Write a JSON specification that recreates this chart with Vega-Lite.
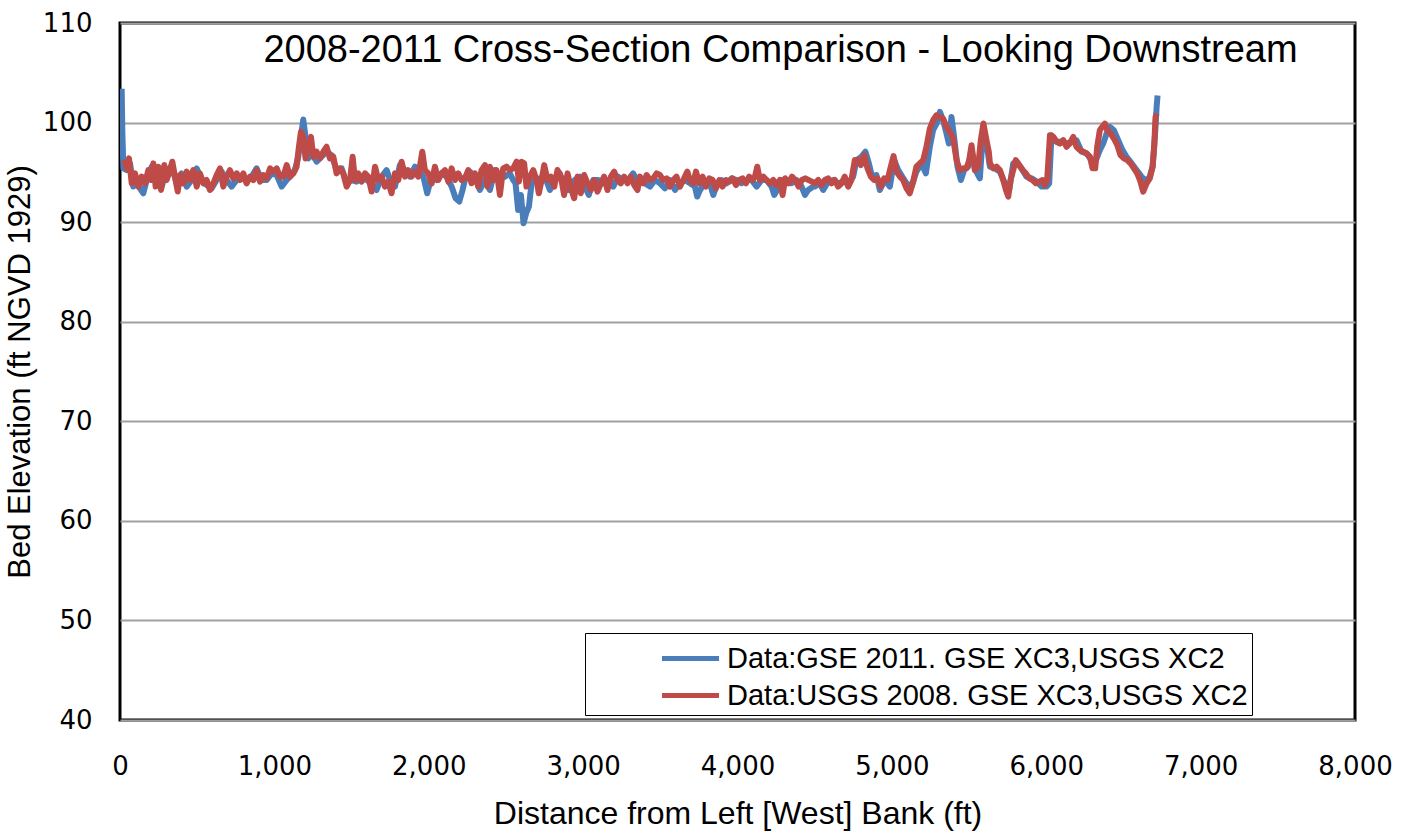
{
  "$schema": "https://vega.github.io/schema/vega-lite/v6.json",
  "autosize": {"type": "none"},
  "width": 1235,
  "height": 697,
  "padding": {"left": 120, "top": 23, "right": 58, "bottom": 113},
  "background": "white",
  "title": {"text": "2008-2011 Cross-Section Comparison - Looking Downstream", "anchor": "middle", "dx": 43, "offset": -60, "font": "Liberation Sans", "fontSize": 38, "fontWeight": "normal", "color": "black"},
  "datasets": {
    "gse": [
      {"d":11,"v":103.4},{"d":15,"v":99.23},{"d":22,"v":95.4},{"d":43,"v":95.23},{"d":65,"v":95.9},{"d":86,"v":93.57},{"d":108,"v":93.9},{"d":151,"v":92.9},{"d":173,"v":94.23},{"d":205,"v":95.57},{"d":237,"v":93.9},{"d":270,"v":93.57},{"d":302,"v":95.23},{"d":335,"v":95.57},{"d":367,"v":93.9},{"d":399,"v":94.9},{"d":432,"v":93.57},{"d":464,"v":94.23},{"d":497,"v":95.4},{"d":529,"v":94.23},{"d":561,"v":93.73},{"d":594,"v":93.4},{"d":626,"v":94.23},{"d":658,"v":95.07},{"d":691,"v":94.23},{"d":723,"v":93.57},{"d":756,"v":94.23},{"d":788,"v":94.57},{"d":820,"v":94.07},{"d":853,"v":94.57},{"d":885,"v":95.4},{"d":918,"v":94.23},{"d":950,"v":94.23},{"d":982,"v":94.9},{"d":1015,"v":94.73},{"d":1047,"v":93.57},{"d":1080,"v":94.23},
      {"d":1101,"v":94.57},{"d":1133,"v":95.23},{"d":1155,"v":96.57},{"d":1172,"v":98.57},{"d":1187,"v":100.3},{"d":1202,"v":98.57},{"d":1220,"v":96.4},{"d":1241,"v":96.9},{"d":1274,"v":96.07},{"d":1306,"v":96.57},{"d":1338,"v":97.07},{"d":1371,"v":96.73},{"d":1403,"v":95.23},{"d":1436,"v":95.4},{"d":1468,"v":93.9},{"d":1500,"v":94.23},{"d":1533,"v":94.07},{"d":1565,"v":94.4},{"d":1598,"v":94.23},{"d":1630,"v":93.9},{"d":1662,"v":93.23},{"d":1695,"v":94.57},{"d":1727,"v":95.23},{"d":1749,"v":94.23},{"d":1781,"v":93.57},{"d":1813,"v":95.73},{"d":1846,"v":95.23},{"d":1878,"v":94.57},{"d":1911,"v":95.57},{"d":1943,"v":94.9},{"d":1965,"v":94.57},{"d":1990,"v":92.9},{"d":2019,"v":94.57},{"d":2051,"v":94.23},{"d":2083,"v":94.9},{"d":2116,"v":94.57},{"d":2148,"v":93.57},{"d":2174,"v":92.4},{"d":2198,"v":92.07},{"d":2219,"v":93.23},
      {"d":2234,"v":94.23},{"d":2266,"v":95.07},{"d":2299,"v":94.57},{"d":2331,"v":93.23},{"d":2364,"v":94.23},{"d":2396,"v":93.23},{"d":2428,"v":95.23},{"d":2461,"v":94.57},{"d":2493,"v":94.57},{"d":2525,"v":94.9},{"d":2547,"v":94.23},{"d":2562,"v":93.9},{"d":2579,"v":91.23},{"d":2597,"v":92.73},{"d":2614,"v":89.9},{"d":2631,"v":90.9},{"d":2649,"v":91.57},{"d":2666,"v":93.9},{"d":2687,"v":94.23},{"d":2720,"v":94.4},{"d":2752,"v":94.57},{"d":2785,"v":93.23},{"d":2817,"v":94.23},{"d":2849,"v":94.9},{"d":2882,"v":93.23},{"d":2914,"v":93.23},{"d":2946,"v":94.23},{"d":2979,"v":94.57},{"d":3011,"v":93.57},{"d":3037,"v":92.73},{"d":3065,"v":94.23},{"d":3098,"v":94.23},{"d":3130,"v":93.9},{"d":3162,"v":94.23},{"d":3195,"v":93.57},{"d":3227,"v":94.57},{"d":3260,"v":94.23},{"d":3292,"v":94.23},{"d":3324,"v":94.9},{"d":3357,"v":93.9},
      {"d":3368,"v":94.23},{"d":3400,"v":93.9},{"d":3433,"v":93.57},{"d":3465,"v":94.23},{"d":3498,"v":93.9},{"d":3530,"v":93.4},{"d":3562,"v":94.23},{"d":3595,"v":93.23},{"d":3627,"v":93.9},{"d":3659,"v":94.23},{"d":3692,"v":93.9},{"d":3724,"v":93.57},{"d":3739,"v":92.57},{"d":3757,"v":93.23},{"d":3789,"v":93.9},{"d":3821,"v":93.9},{"d":3843,"v":92.73},{"d":3869,"v":93.9},{"d":3897,"v":94.23},{"d":3929,"v":93.9},{"d":3962,"v":94.4},{"d":3994,"v":94.23},{"d":4026,"v":93.9},{"d":4059,"v":94.23},{"d":4091,"v":94.23},{"d":4124,"v":93.57},{"d":4156,"v":94.23},{"d":4188,"v":94.23},{"d":4221,"v":93.57},{"d":4238,"v":92.73},{"d":4258,"v":93.23},{"d":4286,"v":94.23},{"d":4318,"v":94.07},{"d":4350,"v":93.9},{"d":4383,"v":94.23},{"d":4415,"v":93.57},{"d":4437,"v":92.73},{"d":4458,"v":93.23},{"d":4491,"v":93.57},
      {"d":4501,"v":93.57},{"d":4533,"v":93.9},{"d":4555,"v":93.23},{"d":4587,"v":94.07},{"d":4620,"v":94.23},{"d":4652,"v":93.9},{"d":4685,"v":94.07},{"d":4717,"v":93.9},{"d":4749,"v":94.57},{"d":4771,"v":96.23},{"d":4803,"v":96.57},{"d":4829,"v":97.07},{"d":4851,"v":95.9},{"d":4872,"v":94.57},{"d":4900,"v":94.73},{"d":4922,"v":93.23},{"d":4954,"v":94.23},{"d":4987,"v":93.57},{"d":5015,"v":96.23},{"d":5041,"v":95.23},{"d":5067,"v":94.57},{"d":5095,"v":93.9},{"d":5127,"v":93.57},{"d":5159,"v":95.07},{"d":5192,"v":95.9},{"d":5220,"v":94.9},{"d":5246,"v":97.57},{"d":5267,"v":99.23},{"d":5289,"v":99.9},{"d":5311,"v":101.07},{"d":5332,"v":100.23},{"d":5354,"v":98.9},{"d":5369,"v":97.9},{"d":5386,"v":100.57},{"d":5403,"v":98.57},{"d":5425,"v":95.57},{"d":5447,"v":94.23},{"d":5468,"v":95.23},{"d":5494,"v":95.57},{"d":5516,"v":97.23},{"d":5542,"v":95.23},{"d":5570,"v":94.4},{"d":5591,"v":99.23},{"d":5613,"v":97.9},
      {"d":5635,"v":95.57},{"d":5667,"v":95.4},{"d":5700,"v":95.07},{"d":5732,"v":93.9},{"d":5760,"v":93.23},{"d":5786,"v":95.9},{"d":5808,"v":96.07},{"d":5840,"v":95.4},{"d":5872,"v":94.57},{"d":5905,"v":94.4},{"d":5937,"v":94.07},{"d":5970,"v":93.57},{"d":6002,"v":93.57},{"d":6019,"v":93.9},{"d":6034,"v":98.73},{"d":6067,"v":98.07},{"d":6099,"v":98.07},{"d":6132,"v":97.9},{"d":6164,"v":98.07},{"d":6196,"v":98.23},{"d":6229,"v":97.07},{"d":6261,"v":96.9},{"d":6293,"v":96.23},{"d":6322,"v":96.23},{"d":6347,"v":97.23},{"d":6369,"v":97.9},{"d":6391,"v":98.9},{"d":6412,"v":99.57},{"d":6438,"v":99.23},{"d":6466,"v":98.23},{"d":6494,"v":97.23},{"d":6520,"v":96.57},{"d":6553,"v":95.9},{"d":6585,"v":95.23},{"d":6617,"v":94.57},{"d":6639,"v":94.23},{"d":6667,"v":94.4},{"d":6689,"v":95.57},{"d":6704,"v":98.57},{"d":6715,"v":101.57},{"d":6721,"v":102.73}
    ],
    "usgs": [
      {"d":26,"v":96.23},{"d":43,"v":95.4},{"d":58,"v":96.4},{"d":76,"v":93.9},{"d":97,"v":94.9},{"d":119,"v":93.57},{"d":140,"v":94.57},{"d":162,"v":93.9},{"d":184,"v":95.23},{"d":201,"v":94.23},{"d":216,"v":95.9},{"d":231,"v":93.57},{"d":248,"v":95.57},{"d":266,"v":93.23},{"d":287,"v":95.73},{"d":302,"v":94.23},{"d":317,"v":94.9},{"d":339,"v":96.07},{"d":356,"v":94.57},{"d":374,"v":93.07},{"d":389,"v":94.73},{"d":410,"v":93.9},{"d":432,"v":95.07},{"d":453,"v":94.23},{"d":475,"v":95.23},{"d":497,"v":93.57},{"d":518,"v":94.9},{"d":540,"v":93.9},{"d":561,"v":94.23},{"d":583,"v":93.23},{"d":605,"v":93.9},{"d":626,"v":94.73},{"d":648,"v":95.4},{"d":669,"v":93.57},{"d":691,"v":94.57},{"d":712,"v":95.23},{"d":734,"v":94.4},{"d":756,"v":94.9},{"d":777,"v":94.23},{"d":799,"v":94.9},{"d":820,"v":93.9},{"d":842,"v":94.57},{"d":864,"v":94.23},{"d":885,"v":95.23},{"d":907,"v":94.07},{"d":928,"v":94.73},{"d":950,"v":94.4},{"d":972,"v":95.4},{"d":993,"v":95.07},{"d":1015,"v":95.4},{"d":1036,"v":94.57},{"d":1058,"v":94.57},{"d":1080,"v":95.73},
      {"d":1101,"v":94.57},{"d":1123,"v":94.9},{"d":1144,"v":95.57},{"d":1159,"v":97.57},{"d":1172,"v":99.07},{"d":1187,"v":98.57},{"d":1202,"v":96.4},{"d":1220,"v":97.73},{"d":1237,"v":98.57},{"d":1252,"v":96.57},{"d":1274,"v":97.07},{"d":1295,"v":96.4},{"d":1317,"v":97.07},{"d":1338,"v":97.57},{"d":1360,"v":96.4},{"d":1382,"v":96.57},{"d":1403,"v":94.9},{"d":1425,"v":95.4},{"d":1446,"v":94.9},{"d":1468,"v":93.57},{"d":1490,"v":94.23},{"d":1507,"v":96.57},{"d":1522,"v":94.23},{"d":1544,"v":94.9},{"d":1565,"v":94.07},{"d":1587,"v":94.9},{"d":1608,"v":94.57},{"d":1630,"v":93.07},{"d":1652,"v":95.57},{"d":1673,"v":94.23},{"d":1695,"v":94.57},{"d":1716,"v":93.57},{"d":1738,"v":94.07},{"d":1759,"v":92.9},{"d":1781,"v":94.9},{"d":1803,"v":94.23},{"d":1824,"v":96.07},{"d":1846,"v":94.57},{"d":1867,"v":95.23},{"d":1889,"v":94.57},{"d":1911,"v":95.07},{"d":1932,"v":94.57},{"d":1958,"v":97.07},{"d":1975,"v":95.23},{"d":1997,"v":94.9},{"d":2019,"v":93.9},{"d":2040,"v":95.57},{"d":2062,"v":94.23},{"d":2083,"v":94.9},{"d":2105,"v":95.23},{"d":2127,"v":94.07},{"d":2148,"v":95.4},{"d":2170,"v":94.23},{"d":2191,"v":94.9},{"d":2213,"v":94.23},
      {"d":2234,"v":94.4},{"d":2256,"v":95.23},{"d":2277,"v":93.9},{"d":2299,"v":94.9},{"d":2320,"v":93.57},{"d":2342,"v":95.23},{"d":2364,"v":95.73},{"d":2381,"v":93.57},{"d":2396,"v":95.57},{"d":2418,"v":94.23},{"d":2439,"v":95.23},{"d":2461,"v":92.73},{"d":2482,"v":95.4},{"d":2504,"v":95.57},{"d":2525,"v":95.23},{"d":2547,"v":95.4},{"d":2569,"v":96.07},{"d":2584,"v":94.07},{"d":2601,"v":96.07},{"d":2618,"v":95.9},{"d":2633,"v":93.57},{"d":2655,"v":94.57},{"d":2677,"v":95.23},{"d":2698,"v":94.23},{"d":2713,"v":92.9},{"d":2731,"v":94.23},{"d":2748,"v":95.73},{"d":2769,"v":94.23},{"d":2791,"v":94.57},{"d":2813,"v":93.57},{"d":2834,"v":95.23},{"d":2856,"v":94.57},{"d":2877,"v":92.73},{"d":2899,"v":94.9},{"d":2921,"v":93.4},{"d":2942,"v":92.4},{"d":2964,"v":94.57},{"d":2985,"v":92.9},{"d":3007,"v":94.73},{"d":3029,"v":93.9},{"d":3050,"v":93.23},{"d":3072,"v":94.23},{"d":3093,"v":93.07},{"d":3115,"v":93.9},{"d":3136,"v":94.57},{"d":3158,"v":93.23},{"d":3180,"v":94.57},{"d":3201,"v":95.07},{"d":3223,"v":94.23},{"d":3244,"v":93.9},{"d":3266,"v":94.57},{"d":3288,"v":93.9},{"d":3309,"v":94.57},{"d":3331,"v":93.73},{"d":3352,"v":93.23},
      {"d":3368,"v":94.57},{"d":3390,"v":93.9},{"d":3411,"v":94.73},{"d":3433,"v":94.23},{"d":3454,"v":94.4},{"d":3476,"v":94.9},{"d":3498,"v":94.73},{"d":3519,"v":94.23},{"d":3541,"v":94.4},{"d":3562,"v":93.57},{"d":3584,"v":94.23},{"d":3605,"v":94.57},{"d":3627,"v":93.57},{"d":3649,"v":94.23},{"d":3675,"v":95.07},{"d":3692,"v":94.23},{"d":3713,"v":93.9},{"d":3731,"v":95.07},{"d":3752,"v":93.9},{"d":3774,"v":94.57},{"d":3795,"v":93.57},{"d":3817,"v":94.4},{"d":3839,"v":94.23},{"d":3860,"v":93.4},{"d":3882,"v":94.23},{"d":3903,"v":93.57},{"d":3925,"v":94.23},{"d":3947,"v":94.07},{"d":3968,"v":94.4},{"d":3990,"v":93.73},{"d":4011,"v":94.23},{"d":4033,"v":94.4},{"d":4055,"v":93.9},{"d":4076,"v":94.57},{"d":4098,"v":94.23},{"d":4113,"v":94.57},{"d":4128,"v":95.57},{"d":4145,"v":94.23},{"d":4167,"v":94.57},{"d":4188,"v":94.23},{"d":4210,"v":93.9},{"d":4232,"v":94.23},{"d":4253,"v":93.73},{"d":4275,"v":94.23},{"d":4292,"v":92.73},{"d":4309,"v":94.4},{"d":4331,"v":93.9},{"d":4353,"v":94.57},{"d":4374,"v":94.23},{"d":4396,"v":93.57},{"d":4417,"v":94.23},{"d":4439,"v":94.4},{"d":4460,"v":94.23},{"d":4482,"v":94.07},
      {"d":4501,"v":93.9},{"d":4523,"v":94.23},{"d":4544,"v":93.73},{"d":4566,"v":94.23},{"d":4587,"v":94.4},{"d":4609,"v":93.9},{"d":4631,"v":94.23},{"d":4652,"v":93.57},{"d":4674,"v":93.9},{"d":4695,"v":94.57},{"d":4717,"v":93.57},{"d":4738,"v":94.23},{"d":4760,"v":96.23},{"d":4782,"v":96.23},{"d":4799,"v":95.73},{"d":4821,"v":96.73},{"d":4842,"v":95.4},{"d":4864,"v":94.57},{"d":4885,"v":94.23},{"d":4907,"v":94.4},{"d":4928,"v":93.57},{"d":4950,"v":94.4},{"d":4972,"v":94.23},{"d":4993,"v":95.57},{"d":5011,"v":96.63},{"d":5030,"v":95.07},{"d":5052,"v":94.57},{"d":5073,"v":94.23},{"d":5095,"v":93.4},{"d":5116,"v":92.9},{"d":5138,"v":94.07},{"d":5159,"v":95.57},{"d":5181,"v":95.9},{"d":5203,"v":96.23},{"d":5224,"v":97.57},{"d":5246,"v":99.4},{"d":5267,"v":100.23},{"d":5289,"v":100.73},{"d":5311,"v":100.57},{"d":5332,"v":100.4},{"d":5354,"v":99.57},{"d":5375,"v":99.07},{"d":5397,"v":98.4},{"d":5419,"v":96.23},{"d":5440,"v":95.23},{"d":5462,"v":95.4},{"d":5483,"v":95.4},{"d":5501,"v":96.23},{"d":5516,"v":97.73},{"d":5537,"v":95.23},{"d":5559,"v":95.57},{"d":5576,"v":98.23},{"d":5593,"v":99.9},{"d":5613,"v":98.23},{"d":5628,"v":97.07},
      {"d":5635,"v":95.9},{"d":5657,"v":95.4},{"d":5678,"v":95.57},{"d":5700,"v":95.23},{"d":5721,"v":94.23},{"d":5739,"v":93.23},{"d":5754,"v":92.57},{"d":5769,"v":94.23},{"d":5786,"v":95.23},{"d":5803,"v":96.23},{"d":5825,"v":95.73},{"d":5847,"v":95.23},{"d":5868,"v":94.9},{"d":5890,"v":94.4},{"d":5911,"v":94.23},{"d":5933,"v":93.9},{"d":5955,"v":94.07},{"d":5976,"v":94.23},{"d":5991,"v":93.73},{"d":6006,"v":94.23},{"d":6024,"v":98.73},{"d":6045,"v":98.57},{"d":6067,"v":98.07},{"d":6088,"v":97.9},{"d":6110,"v":98.23},{"d":6132,"v":97.57},{"d":6153,"v":97.9},{"d":6175,"v":98.57},{"d":6196,"v":97.57},{"d":6218,"v":97.23},{"d":6240,"v":97.07},{"d":6261,"v":96.9},{"d":6283,"v":96.57},{"d":6300,"v":95.4},{"d":6317,"v":95.4},{"d":6330,"v":97.57},{"d":6347,"v":99.23},{"d":6363,"v":99.57},{"d":6380,"v":99.9},{"d":6395,"v":99.23},{"d":6417,"v":98.9},{"d":6438,"v":98.4},{"d":6460,"v":97.73},{"d":6481,"v":96.73},{"d":6503,"v":96.4},{"d":6525,"v":96.23},{"d":6546,"v":95.9},{"d":6568,"v":95.4},{"d":6589,"v":94.9},{"d":6607,"v":94.23},{"d":6628,"v":93.07},{"d":6650,"v":93.9},{"d":6671,"v":94.4},{"d":6689,"v":95.57},{"d":6699,"v":97.57},{"d":6708,"v":100.57},{"d":6715,"v":100.9}
    ]
  },
  "encoding": {
    "x": {"field": "d", "type": "quantitative", "scale": {"domain": [0, 8000], "nice": false},
      "axis": {"values": [0,1000,2000,3000,4000,5000,6000,7000,8000], "format": ",d", "title": "Distance from Left [West] Bank (ft)", "grid": false, "ticks": false, "domain": false, "labelFlush": false, "labelFont": "DejaVu Sans", "labelFontSize": 26, "labelPadding": 33, "labelColor": "black", "titleFont": "Liberation Sans", "titleFontSize": 32, "titleFontWeight": "normal", "titleColor": "black", "titlePadding": 19}},
    "y": {"field": "v", "type": "quantitative", "scale": {"domain": [40, 110], "nice": false, "zero": false},
      "axis": {"values": [40,50,60,70,80,90,100,110], "title": "Bed Elevation (ft NGVD 1929)", "grid": true, "gridColor": "#a0a0a0", "gridWidth": 2, "ticks": false, "domain": false, "labelFont": "DejaVu Sans", "labelFontSize": 26, "labelPadding": 28, "labelColor": "black", "titleFont": "Liberation Sans", "titleFontSize": 31, "titleFontWeight": "normal", "titleColor": "black", "titlePadding": 6}},
    "color": {"type": "nominal", "scale": {"domain": ["Data:GSE 2011. GSE XC3,USGS XC2", "Data:USGS 2008. GSE XC3,USGS XC2"], "range": ["#4a7ebb", "#be4b48"]},
      "legend": {"title": null, "orient": "none", "legendX": 465, "legendY": 610, "padding": 4, "symbolOffset": 80, "symbolType": "M-1.5,0H1.5", "symbolSize": 1444, "symbolStrokeWidth": 5, "labelFont": "Liberation Sans", "labelFontSize": 29, "labelColor": "black", "labelLimit": 700, "labelOffset": 15, "rowPadding": -3, "strokeColor": "black", "fillColor": "white"}}
  },
  "layer": [
    {"data": {"name": "gse"}, "mark": {"type": "line", "strokeWidth": 6, "strokeJoin": "round", "clip": true}, "encoding": {"color": {"datum": "Data:GSE 2011. GSE XC3,USGS XC2"}}},
    {"data": {"name": "usgs"}, "mark": {"type": "line", "strokeWidth": 6, "strokeJoin": "round", "clip": true}, "encoding": {"color": {"datum": "Data:USGS 2008. GSE XC3,USGS XC2"}}}
  ],
  "config": {"view": {"stroke": "black", "strokeWidth": 3}}
}
